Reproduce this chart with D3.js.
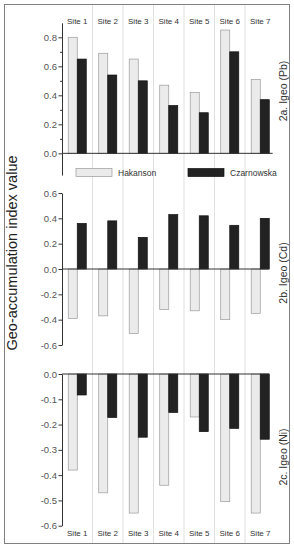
<!DOCTYPE html>
<html>
<head>
<meta charset="utf-8">
<script src="https://cdn.jsdelivr.net/npm/d3@7"></script>
<style>
  body { margin: 0; background: #fff; }
  svg { font-family: "Liberation Sans", Arial, sans-serif; }
</style>
</head>
<body>
<div id="chart"></div>
<script>
// Données
const sites = ["Site 1", "Site 2", "Site 3", "Site 4", "Site 5", "Site 6", "Site 7"];
const methods = ["Hakanson", "Czarnowska"];

const pbHakanson = [0.80, 0.69, 0.65, 0.47, 0.42, 0.85, 0.51];
const pbCzarnowska = [0.65, 0.54, 0.50, 0.33, 0.28, 0.70, 0.37];
const cdHakanson = [-0.39, -0.37, -0.51, -0.32, -0.33, -0.40, -0.35];
const cdCzarnowska = [0.36, 0.38, 0.25, 0.43, 0.42, 0.345, 0.40];
const niHakanson = [-0.38, -0.47, -0.55, -0.44, -0.17, -0.505, -0.55];
const niCzarnowska = [-0.083, -0.172, -0.25, -0.152, -0.228, -0.215, -0.258];

const pbTicks = [0.0, 0.2, 0.4, 0.6, 0.8];
const pbMinorTicks = [0.1, 0.3, 0.5, 0.7];
const cdTicks = [-0.6, -0.4, -0.2, 0.0, 0.2, 0.4, 0.6];
const niTicks = [-0.6, -0.5, -0.4, -0.3, -0.2, -0.1, 0.0];

const W = 294, H = 550;
const svg = d3.select("#chart").append("svg")
    .attr("width", W)
    .attr("height", H);

// Echelles x
const x = d3.scaleBand().domain(sites).range([62, 275.5]);
const xInner = d3.scaleBand().domain(methods).range([0, x.bandwidth()]).paddingOuter(0.69);
const colors = { Hakanson: "#ebebeb", Czarnowska: "#222" };
const strokes = { Hakanson: "#9a9a9a", Czarnowska: "#111" };

// Cadre
svg.append("rect")
    .attr("x", 4.5).attr("y", 4.5)
    .attr("width", 285).attr("height", 539)
    .attr("fill", "none")
    .attr("stroke", "#808080");

// Lignes verticales entre sites
svg.selectAll(".sep")
    .data(sites.slice(1))
    .enter().append("line")
    .attr("x1", d => x(d)).attr("x2", d => x(d))
    .attr("y1", 5).attr("y2", 543)
    .attr("stroke", "#d8d8d8")
    .attr("stroke-width", 0.8);

const fmt = d => d3.format(".1f")(d).replace("\u2212", "-");

function drawPanel(hak, cza, domain, range, ticks, minor, label, labelY, zeroEnd) {
    const y = d3.scaleLinear().domain(domain).range(range);
    const g = svg.append("g");

    const data = sites.map((s, i) => ({ site: s, Hakanson: hak[i], Czarnowska: cza[i] }));

    methods.forEach(m => {
        g.selectAll(".bar-" + m)
            .data(data)
            .enter().append("rect")
            .attr("x", d => x(d.site) + xInner(m))
            .attr("width", xInner.bandwidth())
            .attr("y", d => y(Math.max(0, d[m])))
            .attr("height", d => Math.abs(y(d[m]) - y(0)))
            .attr("fill", colors[m])
            .attr("stroke", strokes[m])
            .attr("stroke-width", 0.7);
    });

    // Ligne zéro
    g.append("line")
        .attr("x1", 62).attr("x2", zeroEnd)
        .attr("y1", y(0)).attr("y2", y(0))
        .attr("stroke", "#333")
        .attr("stroke-width", 1);

    // Axe y
    const axis = g.append("g")
        .attr("transform", "translate(62,0)")
        .call(d3.axisLeft(y).tickValues(ticks).tickFormat(fmt).tickSize(3.5).tickSizeOuter(0));
    axis.select(".domain").attr("stroke", "#333");
    axis.selectAll(".tick line").attr("stroke", "#333");
    axis.selectAll(".tick text")
        .attr("x", -5)
        .attr("fill", "#555")
        .style("font-size", "9.5px");

    if (minor.length) {
        g.append("g")
            .attr("transform", "translate(62,0)")
            .call(d3.axisLeft(y).tickValues(minor).tickFormat("").tickSize(2).tickSizeOuter(0))
            .call(a => a.select(".domain").remove())
            .selectAll(".tick line").attr("stroke", "#333");
    }

    // Titre à droite
    g.append("text")
        .attr("transform", "translate(287," + labelY + ") rotate(-90)")
        .attr("text-anchor", "middle")
        .attr("fill", "#333")
        .style("font-size", "10.5px")
        .text(label);
}

drawPanel(pbHakanson, pbCzarnowska, [-0.15, 0.9], [175.1, 22.8], pbTicks, pbMinorTicks, "2a. Igeo (Pb)", 91, 272.7);
drawPanel(cdHakanson, cdCzarnowska, [-0.6, 0.6], [345, 193], cdTicks, [], "2b. Igeo (Cd)", 273, 269);
drawPanel(niHakanson, niCzarnowska, [-0.6, 0], [525.7, 374], niTicks, [], "2c. Igeo (Ni)", 457, 269);

// Etiquettes des sites
svg.selectAll(".site-top")
    .data(sites)
    .enter().append("text")
    .attr("x", d => x(d) + x.bandwidth() / 2)
    .attr("y", 24)
    .attr("text-anchor", "middle")
    .attr("fill", "#333")
    .style("font-size", "8px")
    .text(d => d);

svg.selectAll(".site-bottom")
    .data(sites)
    .enter().append("text")
    .attr("x", d => x(d) + x.bandwidth() / 2)
    .attr("y", 536)
    .attr("text-anchor", "middle")
    .attr("fill", "#333")
    .style("font-size", "8px")
    .text(d => d);

// Légende
const legendX = { Hakanson: 76, Czarnowska: 188 };
methods.forEach(m => {
    svg.append("rect")
        .attr("x", legendX[m]).attr("y", 168.5)
        .attr("width", 36).attr("height", 8)
        .attr("fill", colors[m])
        .attr("stroke", strokes[m])
        .attr("stroke-width", 0.7);
    svg.append("text")
        .attr("x", legendX[m] + 42).attr("y", 175.5)
        .attr("fill", "#333")
        .style("font-size", "8.5px")
        .text(m);
});

// Titre axe y
svg.append("text")
    .attr("transform", "translate(17,253) rotate(-90)")
    .attr("text-anchor", "middle")
    .attr("fill", "#222")
    .style("font-size", "14.5px")
    .text("Geo-accumulation index value");
</script>
</body>
</html>
